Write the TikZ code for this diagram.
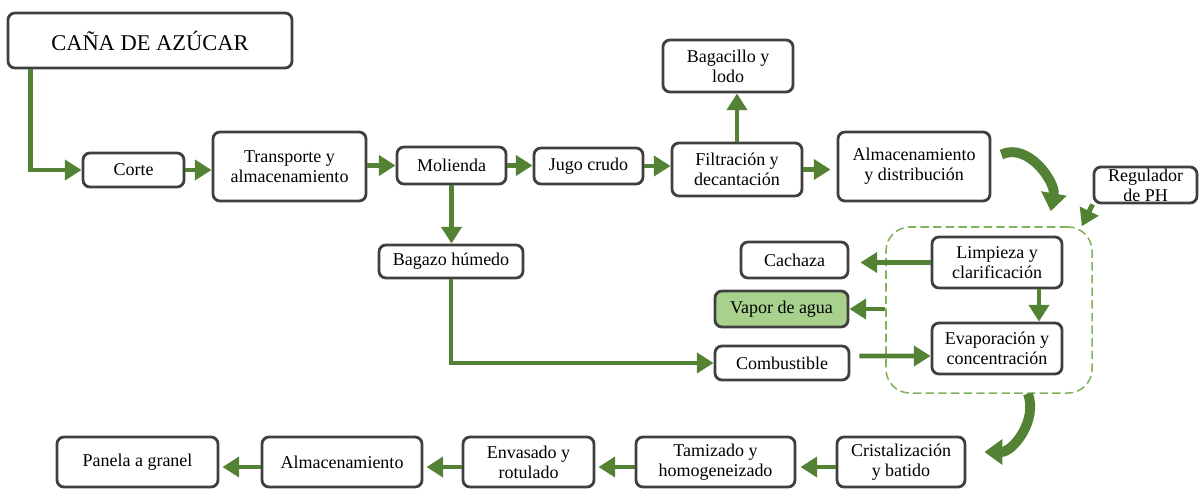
\documentclass[tikz,border=0pt]{standalone}
\usepackage{fontspec}
\setmainfont{Liberation Serif}
\usepackage{tikz}
\usetikzlibrary{arrows.meta,calc}

\definecolor{flowgreen}{HTML}{548235}
\definecolor{dashgreen}{HTML}{7DB35A}
\definecolor{vaporgreen}{HTML}{A9D18E}
\definecolor{boxgray}{HTML}{404040}

\begin{document}
\begin{tikzpicture}[x=0.025cm, y=-0.025cm,
    box/.style = {draw=boxgray, line width=2pt, rounded corners=5pt, fill=white,
                  align=center, inner sep=0pt, font=\fontsize{12.8}{14.2}\selectfont},
    flow/.style = {draw=flowgreen, line width=3.5pt, -{Triangle[length=0.42cm,width=0.5cm]}},
    bigflow/.style = {draw=flowgreen, line width=7pt, -{Triangle[length=0.45cm,width=0.62cm]}},
    group/.style = {draw=dashgreen, line width=1.1pt, dash pattern=on 6pt off 3pt,
                    rounded corners=0.6cm, minimum width=5.15cm, minimum height=4.15cm}]
                \useasboundingbox (0,0) rectangle (1199,488);

                % Dashed group (Limpieza + Evaporacion)
                \node[group] (grp) at (989,310) {};

                % Raw material
                \node[box, font=\fontsize{16}{19}\selectfont, minimum width=7.1cm, minimum height=1.375cm] (cana) at (150,40.5) {CAÑA DE AZÚCAR};

                % Top row
                \node[box, minimum width=2.525cm, minimum height=0.85cm] (corte) at (133.5,170) {Corte};
                \node[box, minimum width=3.825cm, minimum height=1.725cm] (transp) at (289.5,166.5) {Transporte y\\almacenamiento};
                \node[box, minimum width=2.725cm, minimum height=0.925cm] (molienda) at (451.5,165.5) {Molienda};
                \node[box, minimum width=2.725cm, minimum height=0.9cm] (jugo) at (588.5,166) {Jugo crudo};
                \node[box, minimum width=3.25cm, minimum height=1.325cm] (filtr) at (737,169.5) {Filtración y\\decantación};
                \node[box, minimum width=3.25cm, minimum height=1.3cm] (bagac) at (728,66) {Bagacillo y\\lodo};
                \node[box, minimum width=3.8cm, minimum height=1.725cm] (almdist) at (914,166.5) {Almacenamiento\\y distribución};
                \node[box, minimum width=2.575cm, minimum height=0.9cm] (regph) at (1145.5,185) {Regulador\\de PH};

                % Middle part
                \node[box, minimum width=3.6cm, minimum height=0.825cm] (bagazo) at (451,261.5) {Bagazo húmedo};
                \node[box, minimum width=3.25cm, minimum height=1.275cm] (limp) at (997,262.5) {Limpieza y\\clarificación};
                \node[box, minimum width=3.25cm, minimum height=1.275cm] (evap) at (997,348.5) {Evaporación y\\concentración};
                \node[box, minimum width=2.675cm, minimum height=0.9cm] (cachaza) at (794.5,260) {Cachaza};
                \node[box, fill=vaporgreen, minimum width=3.325cm, minimum height=0.9cm] (vapor) at (781.5,309) {Vapor de agua};
                \node[box, minimum width=3.35cm, minimum height=0.85cm] (combust) at (782,363) {Combustible};

                % Bottom row
                \node[box, minimum width=3.2cm, minimum height=1.25cm] (crist) at (901,462) {Cristalización\\y batido};
                \node[box, minimum width=3.975cm, minimum height=1.25cm] (tamiz) at (715.5,462) {Tamizado y\\homogeneizado};
                \node[box, minimum width=3.275cm, minimum height=1.25cm] (envas) at (528.5,462) {Envasado y\\rotulado};
                \node[box, minimum width=4cm, minimum height=1.25cm] (almac) at (342,462) {Almacenamiento};
                \node[box, minimum width=4.025cm, minimum height=1.25cm] (panela) at (137.5,462) {Panela a granel};

                % Arrows of the top row
                \draw[flow] ([xshift=0.6cm]cana.south west) |- (corte.west);
                \draw[flow] (corte.east) -- (corte.east -| transp.west);
                \draw[flow] (transp.east |- molienda) -- (molienda.west);
                \draw[flow] (molienda.east) -- (molienda.east -| jugo.west);
                \draw[flow] (jugo.east) -- (jugo.east -| filtr.west);
                \draw[flow, shorten >=0.15cm] (filtr.east) -- (filtr.east -| almdist.west);
                \draw[flow] (filtr.north) -- (filtr.north |- bagac.south);

                % Bagazo goes to the fire
                \draw[flow] (molienda.south) -- (molienda.south |- bagazo.north);
                \draw[flow] (bagazo.south) |- (combust.west);

                % Into the dashed group
                \draw[bigflow] ($(almdist.east)+(10,-12)$) to[out=25,in=80] ($(grp.north east)+(-42,-15)$);
                \draw[flow] (regph.south west) -- ($(grp.north east)+(-11,0)$);

                % Inside and around the group
                \draw[flow, shorten >=0.275cm] (limp.west) -- (limp.west -| cachaza.east);
                \draw[flow] (grp.west |- vapor) -- (vapor.east);
                \draw[flow, shorten <=0.225cm] ($(combust.east)+(0,-7)$) -- ($(evap.west)+(0,7.5)$);
                \draw[flow] ($(limp.south)+(42,0)$) -- ($(evap.north)+(42,0)$);

                % Out of the group, bottom row
                \draw[bigflow] ($(grp.south)+(39,0)$) to[out=-70,in=0] ($(crist.east)+(18,-10)$);
                \draw[flow, shorten >=0.1cm] ([yshift=-0.125cm]crist.west) -- ([yshift=-0.125cm]tamiz.east);
                \draw[flow, shorten >=0.075cm] ([yshift=-0.125cm]tamiz.west) -- ([yshift=-0.125cm]envas.east);
                \draw[flow, shorten >=0.075cm] ([yshift=-0.125cm]envas.west) -- ([yshift=-0.125cm]almac.east);
                \draw[flow, shorten >=0.075cm] ([yshift=-0.125cm]almac.west) -- ([yshift=-0.125cm]panela.east);

            \end{tikzpicture}
\end{document}
